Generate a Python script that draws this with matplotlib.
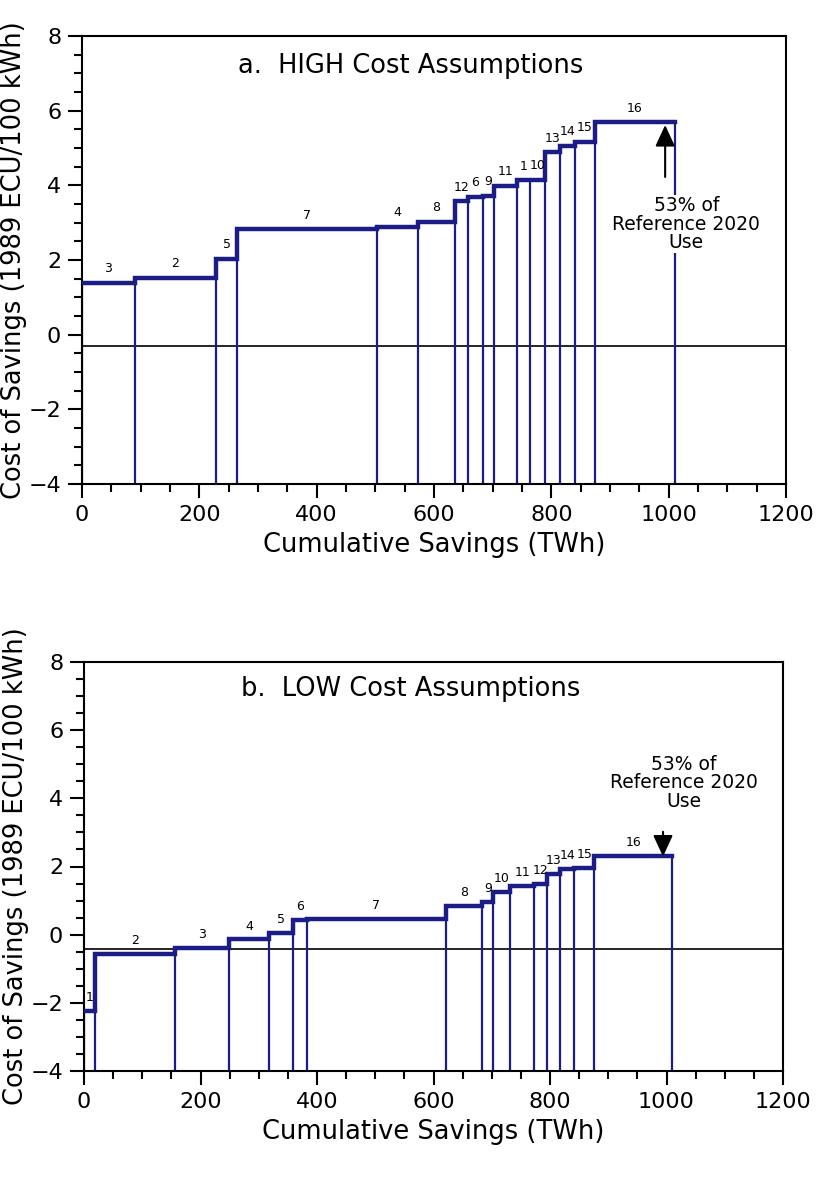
import matplotlib.pyplot as plt
from matplotlib.ticker import MultipleLocator

plt.rcParams['font.family'] = ['DejaVu Sans']

# Panel a: HIGH cost assumptions
high_edges = [0, 90, 228, 265, 502, 573, 635, 658, 683, 702, 741, 763, 790, 815, 840, 874, 1011]
high_cost = [1.39, 1.53, 2.03, 2.82, 2.89, 3.03, 3.58, 3.70, 3.72, 3.99, 4.14, 4.15, 4.88, 5.06, 5.17, 5.69]
high_labels = ['3', '2', '5', '7', '4', '8', '12', '6', '9', '11', '1', '10', '13', '14', '15', '16']
high_ref = -0.30

# Panel b: LOW cost assumptions
low_edges = [0, 19, 156, 249, 318, 358, 383, 621, 684, 703, 732, 773, 794, 817, 842, 876, 1010]
low_cost = [-2.24, -0.57, -0.38, -0.14, 0.05, 0.44, 0.46, 0.85, 0.97, 1.26, 1.43, 1.48, 1.78, 1.92, 1.96, 2.31]
low_labels = ['1', '2', '3', '4', '5', '6', '7', '8', '9', '10', '11', '12', '13', '14', '15', '16']
low_ref = -0.43

target_x = 994
note = "53% of\nReference 2020\nUse"

navy = '#1c1c86'

fig = plt.figure(figsize=(8.19, 11.9), dpi=100)
ax1 = fig.add_axes([82 / 819, 1 - 484 / 1190, 704 / 819, 448 / 1190])
ax2 = fig.add_axes([84 / 819, 1 - 1071 / 1190, 699 / 819, 409 / 1190])


def draw_panel(ax, edges, cost, labels, ref, title, note_y, up):
    ax.set_xlim(0, 1200)
    ax.set_ylim(-4, 8)
    # thin verticals from the bottom to each step edge
    for i, x in enumerate(edges):
        left = cost[i - 1] if i > 0 else -4
        right = cost[i] if i < len(cost) else -4
        ax.plot([x, x], [-4, max(left, right)], color=navy, lw=1.6, zorder=2)
    # staircase top
    xs, ys = [], []
    for i, c in enumerate(cost):
        xs += [edges[i], edges[i + 1]]
        ys += [c, c]
    ax.plot(xs, ys, color=navy, lw=3.2, solid_joinstyle='miter', zorder=3)
    for i, lab in enumerate(labels):
        xc = (edges[i] + edges[i + 1]) / 2
        ax.text(xc, cost[i] + 0.2, lab, ha='center', va='bottom', fontsize=9, zorder=4)
    ax.axhline(ref, color='black', lw=1.2, zorder=1)
    ax.text(560, 7.2, title, ha='center', va='center', fontsize=18.5)
    # arrow to 53% of reference use
    top = cost[-1]
    head = '-|>,head_width=0.6,head_length=1.3'
    if up:
        ax.annotate('', xy=(target_x, top), xytext=(target_x, 4.15),
                    arrowprops=dict(arrowstyle=head, color='black', lw=1.5), zorder=5)
    else:
        ax.annotate('', xy=(target_x, top - 0.1), xytext=(target_x, 3.1),
                    arrowprops=dict(arrowstyle=head, color='black', lw=1.5), zorder=5)
    ax.text(1030, note_y, note, ha='center', va='center', fontsize=13.5,
            linespacing=0.95, zorder=6,
            bbox=dict(facecolor='white', edgecolor='none', pad=1))

    ax.xaxis.set_major_locator(MultipleLocator(200))
    ax.xaxis.set_minor_locator(MultipleLocator(50))
    ax.yaxis.set_major_locator(MultipleLocator(2))
    ax.yaxis.set_minor_locator(MultipleLocator(0.5))
    ax.tick_params(which='major', direction='out', length=10, width=1.5, labelsize=16, pad=5)
    ax.tick_params(which='minor', direction='out', length=6, width=1.5)
    for s in ax.spines.values():
        s.set_linewidth(1.5)
    ax.set_xlabel('Cumulative Savings (TWh)', fontsize=18.5, labelpad=5)
    ax.set_ylabel('Cost of Savings (1989 ECU/100 kWh)', fontsize=18.5, labelpad=1)


draw_panel(ax1, high_edges, high_cost, high_labels, high_ref,
           'a.  HIGH Cost Assumptions', 2.96, True)
draw_panel(ax2, low_edges, low_cost, low_labels, low_ref,
           'b.  LOW Cost Assumptions', 4.45, False)

fig.savefig('out.png', dpi=100)
